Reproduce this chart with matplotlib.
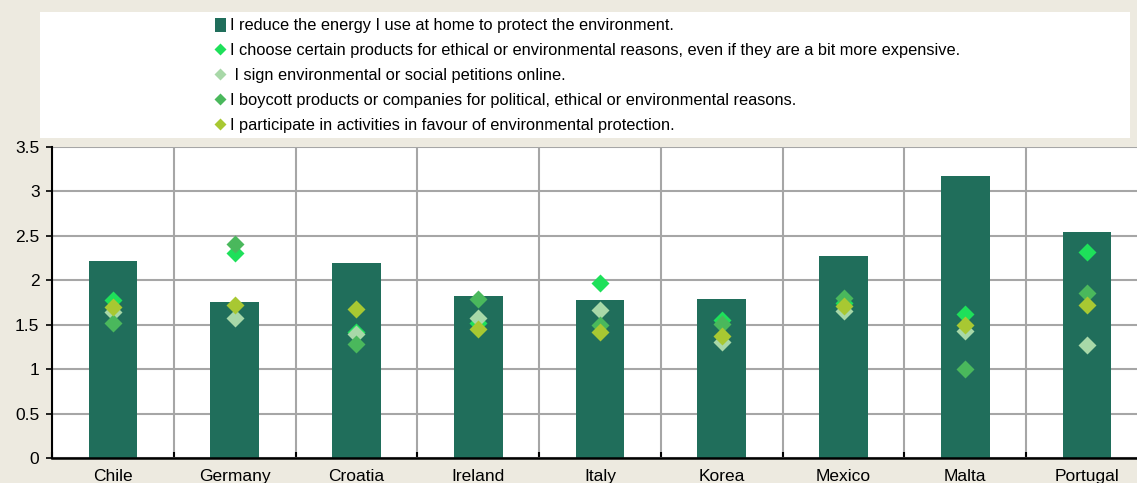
import matplotlib
matplotlib.use('Agg')
import matplotlib.pyplot as plt
from matplotlib.patches import Rectangle
from matplotlib.lines import Line2D
import numpy as np

countries = ['Chile', 'Germany', 'Croatia', 'Ireland', 'Italy', 'Korea', 'Mexico', 'Malta', 'Portugal']
energy = [2.22, 1.76, 2.20, 1.82, 1.78, 1.79, 2.27, 3.17, 2.54]
ethical = [1.78, 2.31, 1.42, 1.52, 1.97, 1.55, 1.75, 1.62, 2.32]
petitions = [1.64, 1.58, 1.40, 1.57, 1.66, 1.31, 1.65, 1.43, 1.27]
boycott = [1.52, 2.41, 1.28, 1.79, 1.50, 1.51, 1.80, 1.00, 1.86]
participate = [1.70, 1.72, 1.68, 1.45, 1.42, 1.37, 1.71, 1.50, 1.72]

labels = ['I reduce the energy I use at home to protect the environment.',
          'I choose certain products for ethical or environmental reasons, even if they are a bit more expensive.',
          ' I sign environmental or social petitions online.',
          'I boycott products or companies for political, ethical or environmental reasons.',
          'I participate in activities in favour of environmental protection.']

bar_col = '#206e5b'
c_ethical = '#1ee05a'
c_pet = '#a8d8a8'
c_boy = '#4ab85c'
c_part = '#a8c832'

plt.rcParams['font.family'] = ['Liberation Sans Narrow', 'Liberation Sans', 'DejaVu Sans']

fig = plt.figure(figsize=(11.37, 4.83), dpi=100)
fig.patch.set_facecolor('#edeae0')

# white legend box
fig.patches.append(Rectangle((40 / 1137, 1 - 138 / 483), 1090 / 1137, 126 / 483,
                             transform=fig.transFigure, facecolor='white', edgecolor='none', zorder=0))

ax = fig.add_axes([52 / 1137, 25 / 483, 1096 / 1137, 311 / 483])
ax.set_facecolor('white')

x = np.arange(len(countries))
ax.bar(x, energy, width=0.4, color=bar_col, zorder=2)
ms = 9.5
ax.plot(x, ethical, 'D', color=c_ethical, ms=ms, mec='none', zorder=3)
ax.plot(x, petitions, 'D', color=c_pet, ms=ms, mec='none', zorder=3)
ax.plot(x, boycott, 'D', color=c_boy, ms=ms, mec='none', zorder=3)
ax.plot(x, participate, 'D', color=c_part, ms=ms, mec='none', zorder=3)

ax.set_xlim(-0.5, len(countries) - 0.5)
ax.set_ylim(0, 3.5)
ax.set_yticks([0, 0.5, 1, 1.5, 2, 2.5, 3, 3.5])
ax.set_yticklabels(['0', '0.5', '1', '1.5', '2', '2.5', '3', '3.5'])
ax.set_xticks(x)
ax.set_xticklabels(countries)
ax.set_xticks(np.arange(len(countries) + 1) - 0.5, minor=True)
ax.tick_params(axis='x', which='major', length=0, labelsize=12.5, pad=8)
ax.tick_params(axis='x', which='minor', direction='in', length=4, width=1.5)
ax.tick_params(axis='y', direction='out', length=4, width=1.2, labelsize=12.5, pad=5)

ax.grid(True, axis='y', color='#a6a6a6', lw=1.5, zorder=1)
ax.grid(True, axis='x', which='minor', color='#a6a6a6', lw=1.5, zorder=1)
ax.set_axisbelow(True)
for s in ['top', 'right']:
    ax.spines[s].set_visible(False)
ax.spines['left'].set_linewidth(1.5)
ax.spines['bottom'].set_linewidth(1.8)

handles = [Rectangle((0, 0), 1, 1, facecolor=bar_col, edgecolor='none'),
           Line2D([], [], ls='none', marker='D', ms=6.5, color=c_ethical, mec='none'),
           Line2D([], [], ls='none', marker='D', ms=6.5, color=c_pet, mec='none'),
           Line2D([], [], ls='none', marker='D', ms=6.5, color=c_boy, mec='none'),
           Line2D([], [], ls='none', marker='D', ms=6.5, color=c_part, mec='none')]
fig.legend(handles, labels, loc='upper left', bbox_to_anchor=(210 / 1137, 1 - 13 / 483),
           frameon=False, fontsize=11.8, labelspacing=0.58, handlelength=0.65,
           handleheight=0.9, handletextpad=0.25, borderaxespad=0, borderpad=0.3)

fig.savefig('out.png', dpi=100, facecolor=fig.get_facecolor())
